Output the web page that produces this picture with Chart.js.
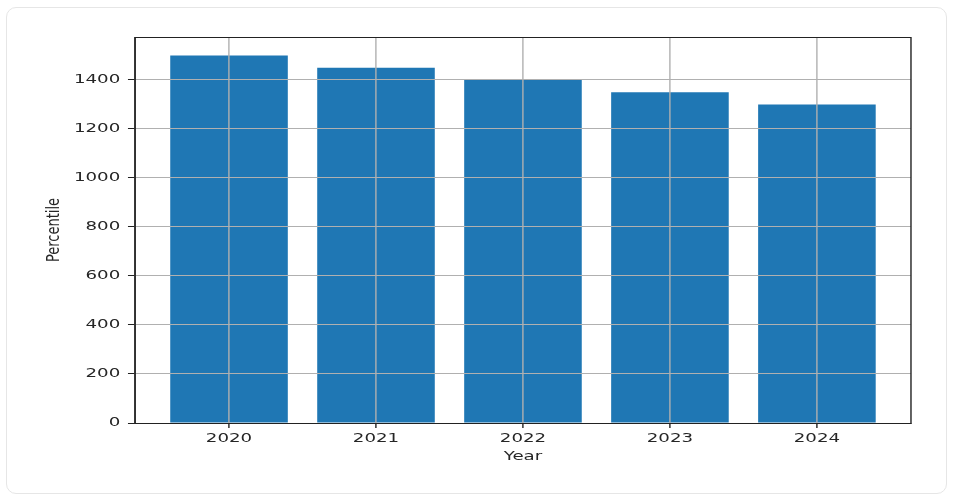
<!DOCTYPE html>
<html>
<head>
<meta charset="utf-8">
<script src="https://cdn.jsdelivr.net/npm/chart.js@4.4.0/dist/chart.umd.min.js"></script>
<style>
  html, body { margin: 0; padding: 0; background: #fff; overflow: hidden; }
  #card {
    position: absolute; left: 6px; top: 7px; width: 939px; height: 485px;
    border: 1px solid #e6e6e6; border-radius: 10px; background: #fff;
  }
  #chart { position: absolute; left: 0; top: 0; }
</style>
</head>
<body>
<div id="card"></div>
<canvas id="chart" width="685" height="502" style="width:685px;height:502px"></canvas>
<script>
// chart data
var years = ["2020", "2021", "2022", "2023", "2024"];
var percentile = [1500, 1450, 1400, 1350, 1300];
var yTicks = [0, 200, 400, 600, 800, 1000, 1200, 1400];

// the reference picture is stretched sideways: lay out narrow, draw stretched
var STRETCH = 1.4;
var tickFont = { family: "DejaVu Sans", size: 13 };

var stretch = {
    id: "stretch",
    beforeDraw: function (chart) {
        chart.ctx.setTransform(STRETCH, 0, 0, 1, 0, 0);
    }
};

// box round the plot area, like matplotlib spines
var frame = {
    id: "frame",
    afterDraw: function (chart) {
        var a = chart.chartArea, c = chart.ctx;
        c.save();
        c.strokeStyle = "#222";
        c.lineWidth = 1;
        c.strokeRect(a.left, Math.round(a.top) + 0.5, a.right - a.left, Math.round(a.bottom - a.top));
        c.restore();
    }
};

var gridOpts = { z: 1, offset: false, color: "#b0b0b0", lineWidth: 1, tickLength: 5, tickColor: "#222" };

var ctx = document.getElementById("chart");
var chart = new Chart(ctx, {
    type: "bar",
    data: {
        datasets: [{
            label: "Percentile",
            data: percentile.map(function (v, i) { return { x: i, y: v }; }),
            backgroundColor: "#1f77b4",
            borderWidth: 0,
            inflateAmount: 0,
            categoryPercentage: 0.8,
            barPercentage: 1.0
        }]
    },
    options: {
        responsive: false,
        animation: false,
        devicePixelRatio: 1,
        layout: { padding: { left: 0, right: 34.3, top: 37, bottom: 0 } },
        plugins: { legend: { display: false }, tooltip: { enabled: false } },
        scales: {
            x: {
                type: "linear",
                min: -0.64,
                max: 4.64,
                offset: false,
                afterBuildTicks: function (s) {
                    s.ticks = years.map(function (_, i) { return { value: i }; });
                },
                afterFit: function (s) { s.height = 79; },
                ticks: {
                    z: 1,
                    color: "#262626",
                    font: tickFont,
                    padding: 3,
                    maxRotation: 0,
                    autoSkip: false,
                    callback: function (v) { return years[v]; }
                },
                grid: gridOpts,
                border: { z: 1, color: "#222" },
                title: { display: true, text: "Year", color: "#262626", font: tickFont, padding: { top: 0, bottom: 38 } }
            },
            y: {
                min: 0,
                max: 1575,
                afterBuildTicks: function (s) {
                    s.ticks = yTicks.map(function (v) { return { value: v }; });
                },
                afterFit: function (s) { s.width = 96.4; },
                ticks: {
                    z: 1,
                    color: "#262626",
                    font: tickFont,
                    padding: 5.5,
                    callback: function (v) { return String(v); }
                },
                grid: gridOpts,
                border: { z: 1, color: "#222" },
                title: { display: true, text: "Percentile", color: "#262626", font: tickFont, padding: { top: 30.7, bottom: 0 } }
            }
        }
    },
    plugins: [stretch, frame]
});

// widen the real canvas and redraw through the stretch transform
ctx.width = 959;
ctx.style.width = "959px";
chart.draw();
</script>
</body>
</html>
